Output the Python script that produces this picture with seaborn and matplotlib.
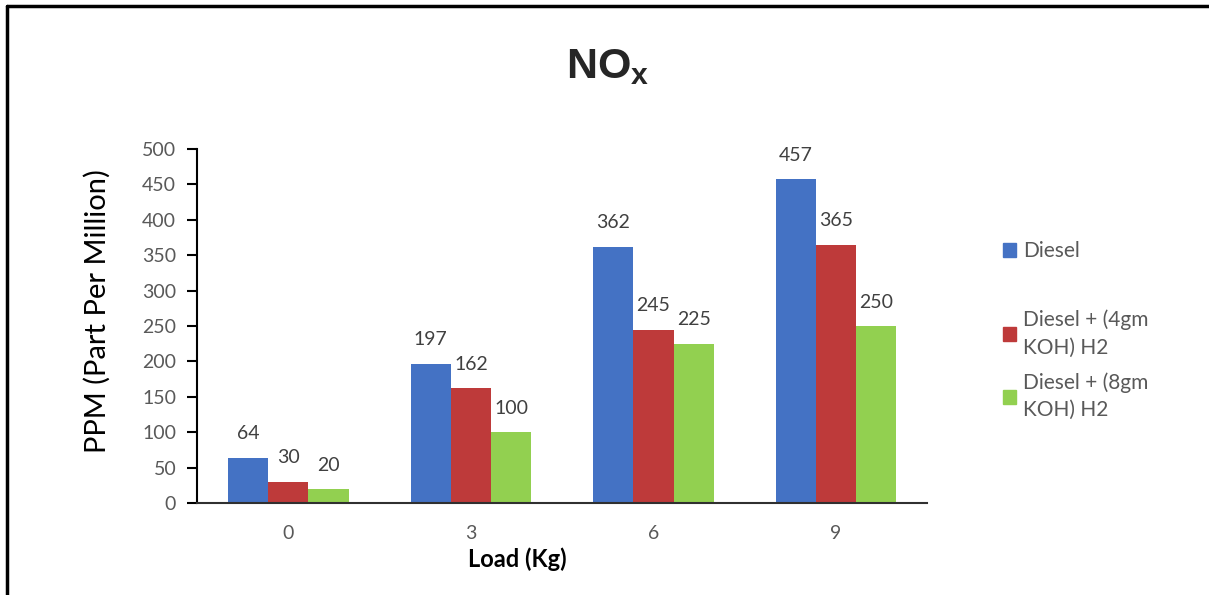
import matplotlib
matplotlib.use('Agg')
import matplotlib.pyplot as plt
from matplotlib.lines import Line2D
import pandas as pd
import seaborn as sns

loads = ['0', '3', '6', '9']
diesel = [64, 197, 362, 457]
koh_4gm = [30, 162, 245, 365]
koh_8gm = [20, 100, 225, 250]
series_names = ['Diesel', 'Diesel + (4gm\nKOH) H2', 'Diesel + (8gm\nKOH) H2']
colors = ['#4472C4', '#BE3A3A', '#92D050']

rows = []
for name, vals in zip(series_names, [diesel, koh_4gm, koh_8gm]):
    for ld, v in zip(loads, vals):
        rows.append([ld, v, name])
df = pd.DataFrame(rows, columns=['load', 'ppm', 'fuel'])

sns.set_style('white')
plt.rcParams['font.family'] = ['Lato', 'DejaVu Sans']
plt.rcParams['mathtext.fontset'] = 'custom'
plt.rcParams['mathtext.bf'] = 'Liberation Sans:bold'

fig = plt.figure(figsize=(12.09, 5.95), dpi=100)
ax = fig.add_axes([0.163, 0.1546, 0.604, 0.595])

sns.barplot(data=df, x='load', y='ppm', hue='fuel', palette=colors,
            width=0.66, saturation=1, linewidth=0, ax=ax, order=loads,
            hue_order=series_names, legend=False)

for cont in ax.containers:
    ax.bar_label(cont, padding=11, fontsize=14, color='#404040')

ax.set_ylim(0, 500)
ax.set_yticks(range(0, 501, 50))
ax.tick_params(axis='y', left=True, length=7, width=1.5, color='black',
               labelsize=14, labelcolor='#595959', pad=8)
ax.tick_params(axis='x', bottom=False, labelsize=14, labelcolor='#595959', pad=12)
for s in ['top', 'right']:
    ax.spines[s].set_visible(False)
ax.spines['left'].set_color('black')
ax.spines['left'].set_linewidth(1.5)
ax.spines['bottom'].set_color('#303030')
ax.spines['bottom'].set_linewidth(1.5)

ax.set_ylabel('PPM (Part Per Million)', fontsize=21, color='black')
ax.yaxis.set_label_coords(-0.118, 0.542)
ax.set_xlabel('Load (Kg)', fontsize=17, fontweight='bold', color='black')
ax.xaxis.set_label_coords(0.438, -0.125)

# legend: Excel leaves more room after the first entry, so two blocks
handles = [plt.Rectangle((0, 0), 1, 1, color=c) for c in colors]
leg_kw = dict(frameon=False, fontsize=15, labelcolor='#595959', handlelength=0.65,
              handleheight=0.65, handletextpad=0.34, borderpad=0, loc='center left')
leg1 = ax.legend(handles[:1], series_names[:1], bbox_to_anchor=(1.089, 0.712), **leg_kw)
ax.add_artist(leg1)
leg2 = ax.legend(handles[1:], series_names[1:], bbox_to_anchor=(1.089, 0.39),
                 labelspacing=0.7, **leg_kw)
for t in leg2.get_texts():
    t.set_linespacing(1.45)

fig.text(0.503, 0.888, r'$\mathbf{NO_x}$', ha='center', va='center', fontsize=31)

# frame around the chart area (left and top edges only)
fig.add_artist(Line2D([7 / 1209, 7 / 1209], [0, 1 - 6 / 595], transform=fig.transFigure,
                      color='black', lw=2.5))
fig.add_artist(Line2D([7 / 1209, 1], [1 - 6 / 595, 1 - 6 / 595], transform=fig.transFigure,
                      color='black', lw=2.5))

fig.savefig('out.png', dpi=100)
